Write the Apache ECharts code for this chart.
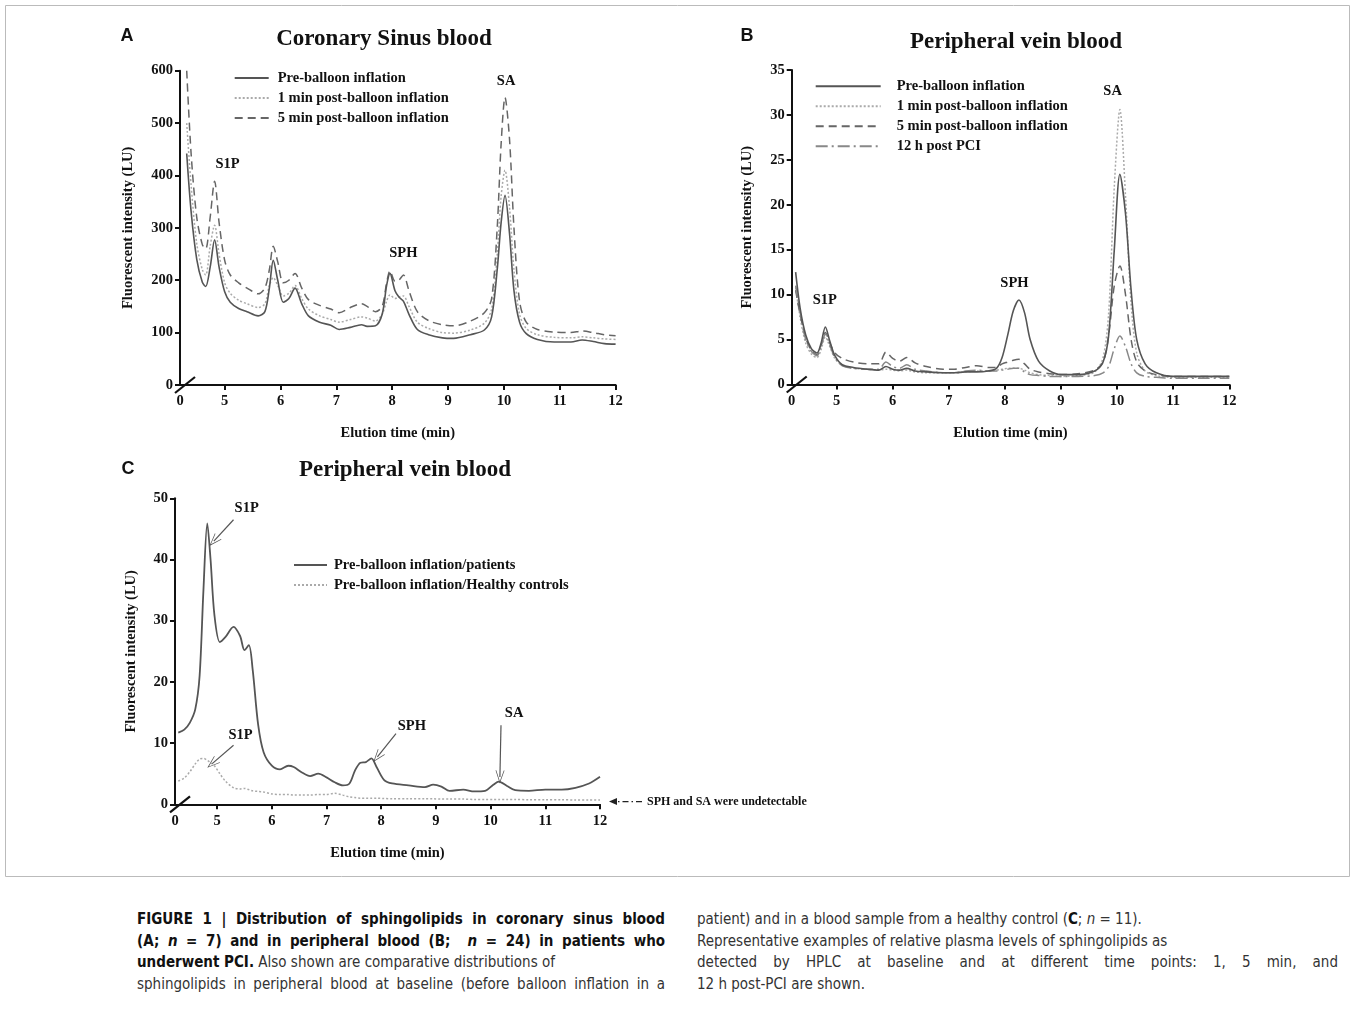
<!DOCTYPE html>
<html>
<head>
<meta charset="utf-8">
<script src="https://cdn.jsdelivr.net/npm/echarts@6.0.0/dist/echarts.min.js"></script>
<style>
body { margin: 0; background: #fff; }
#chart { position: absolute; left: 0; top: 0; width: 1355px; height: 890px; }
.cap { position: absolute; font-family: 'Liberation Sans Narrow', 'DejaVu Sans Condensed', 'Liberation Sans', sans-serif; font-size: 15px; line-height: 21.6px; color: #333; }
.cap div { white-space: nowrap; }
.cap .j { text-align: justify; text-align-last: justify; white-space: normal; }
.cap b { color: #111; }
</style>
</head>
<body>
<div id="chart"></div>
<div class="cap" style="left:137px; top:909px; width:528px;">
  <div class="j"><b>FIGURE 1 | Distribution of sphingolipids in coronary sinus blood</b></div>
  <div class="j"><b>(A; <i>n</i> = 7) and in peripheral blood (B; &nbsp;<i>n</i> = 24) in patients who</b></div>
  <div><b>underwent PCI.</b> Also shown are comparative distributions of</div>
  <div class="j">sphingolipids in peripheral blood at baseline (before balloon inflation in a</div>
</div>
<div class="cap" style="left:697px; top:909px; width:641px;">
  <div>patient) and in a blood sample from a healthy control (<b>C</b>; <i>n</i> = 11).</div>
  <div>Representative examples of relative plasma levels of sphingolipids as</div>
  <div class="j">detected by HPLC at baseline and at different time points: 1, 5 min, and</div>
  <div>12 h post-PCI are shown.</div>
</div>
<script>
// panel A: coronary sinus blood
const timeA = [4.32,4.4,4.5,4.6,4.66,4.74,4.82,4.9,5.0,5.1,5.25,5.4,5.6,5.72,5.8,5.87,5.95,6.05,6.15,6.26,6.38,6.5,6.7,6.9,7.05,7.25,7.45,7.55,7.7,7.82,7.9,7.96,8.05,8.12,8.2,8.3,8.45,8.65,8.9,9.1,9.4,9.65,9.78,9.88,9.95,10.02,10.1,10.18,10.28,10.4,10.6,10.9,11.2,11.4,11.6,11.8,12.0];
const preA = [442,330,240,196,188,225,277,225,178,158,146,140,132,140,185,238,200,158,165,185,155,132,120,114,106,110,115,112,113,135,190,213,180,168,160,135,106,96,90,89,96,105,130,220,310,362,290,180,120,98,87,82,82,86,83,79,78];
const min1A = [500,380,270,220,210,265,305,250,195,175,162,155,148,155,190,205,190,170,175,190,165,145,132,125,120,125,130,128,122,135,160,172,165,168,170,150,120,108,100,99,105,118,145,250,360,410,340,220,135,108,96,91,90,92,90,88,87];
const min5A = [600,440,320,268,260,320,389,310,238,210,195,185,174,185,220,265,235,195,200,213,185,163,152,145,138,148,155,150,140,150,195,218,198,200,210,180,140,123,115,113,122,138,165,300,460,549,470,300,160,120,106,101,100,103,100,96,94];

// panel B: peripheral vein blood
const timeB = [4.27,4.35,4.45,4.55,4.65,4.72,4.8,4.88,4.97,5.1,5.3,5.55,5.75,5.88,6.0,6.12,6.25,6.4,6.6,6.9,7.1,7.3,7.5,7.7,7.85,7.95,8.05,8.15,8.25,8.35,8.45,8.6,8.8,9.0,9.3,9.6,9.75,9.85,9.95,10.05,10.15,10.25,10.35,10.5,10.7,11.0,11.5,12.0];
const preB = [12.5,8.5,5.5,4.0,3.5,4.5,6.4,4.8,3.2,2.2,1.9,1.7,1.6,2.0,1.7,1.6,1.8,1.5,1.4,1.3,1.3,1.4,1.4,1.5,1.8,3.0,5.5,8.2,9.4,8.0,5.0,2.6,1.5,1.1,1.1,1.5,2.5,5.5,15.0,23.4,19.0,10.5,5.0,2.3,1.3,0.9,0.9,0.9];
const min1B = [10.8,7.5,4.6,3.4,3.0,3.8,5.3,4.2,2.9,2.1,1.8,1.7,1.6,1.7,1.6,1.5,1.6,1.4,1.3,1.3,1.3,1.4,1.5,1.5,1.6,1.7,1.8,1.8,1.8,1.6,1.3,1.1,1.0,0.9,1.0,1.4,3.0,8.0,22.0,30.6,21.0,9.0,3.5,1.5,1.0,0.8,0.8,0.8];
const min5B = [10.5,7.8,5.2,3.8,3.3,4.3,5.8,4.6,3.5,2.9,2.5,2.3,2.3,3.6,2.9,2.6,3.0,2.4,2.0,1.7,1.7,1.9,2.1,1.9,1.9,2.3,2.5,2.7,2.8,2.3,1.7,1.4,1.2,1.1,1.2,1.6,2.5,5.5,11.0,13.2,10.0,5.0,2.5,1.5,1.1,0.9,0.9,0.9];
const h12B = [11.0,8.0,5.0,3.7,3.2,4.2,5.6,4.4,3.0,2.1,1.8,1.7,1.7,2.5,2.0,1.8,2.2,1.7,1.5,1.3,1.3,1.5,1.6,1.5,1.5,1.6,1.7,1.8,1.8,1.4,1.1,1.0,0.9,0.9,0.9,1.0,1.3,2.0,4.0,5.4,4.2,2.3,1.3,0.9,0.8,0.7,0.7,0.7];

// panel C: patients vs healthy controls
const timeC = [4.29,4.4,4.5,4.6,4.68,4.75,4.82,4.88,4.95,5.05,5.15,5.3,5.42,5.5,5.58,5.65,5.75,5.85,6.0,6.15,6.3,6.4,6.55,6.7,6.85,7.0,7.15,7.3,7.42,7.52,7.62,7.72,7.82,7.92,8.05,8.2,8.5,8.8,8.95,9.1,9.25,9.5,9.7,9.9,10.05,10.15,10.3,10.45,10.7,11.0,11.3,11.55,11.8,12.0];
const patientsC = [11.7,12.2,13.3,15.5,21,35,45.9,40,31,26.5,27.3,29.0,27.5,25.2,26.0,22,13,8.5,6.3,5.7,6.3,6.1,5.2,4.6,5.0,4.4,3.6,3.1,3.4,5.5,6.8,6.9,7.5,6.0,4.0,3.4,3.1,2.8,3.2,2.9,2.2,2.4,2.1,2.2,3.2,3.7,3.0,2.3,2.2,2.4,2.4,2.7,3.4,4.5];
const controlsC = [3.8,4.3,5.3,6.6,7.4,7.5,7.2,6.8,6.3,5.0,3.8,2.7,2.5,2.6,2.4,2.2,2.1,2.0,1.7,1.6,1.6,1.5,1.5,1.5,1.6,1.6,1.8,1.5,1.2,1.1,1.0,1.0,1.0,1.0,0.95,0.9,0.9,0.9,0.9,0.85,0.85,0.85,0.8,0.8,0.8,0.8,0.8,0.8,0.75,0.75,0.75,0.7,0.7,0.7];

// axes
const xTicks = [5, 6, 7, 8, 9, 10, 11, 12];
const xMin = [4.2, 4.2, 4.23];
const yMax = [600, 35, 50];
const yStep = [100, 5, 10];

// peak labels [time, value, text]
const peaksA = [[5.05, 422, 'S1P'], [8.2, 252, 'SPH'], [10.04, 580, 'SA']];
const peaksB = [[4.79, 9.4, 'S1P'], [8.17, 11.3, 'SPH'], [9.92, 32.6, 'SA']];
const peaksC = [[5.54, 48.4, 'S1P'], [5.43, 11.3, 'S1P'], [8.56, 12.7, 'SPH'], [10.43, 14.8, 'SA']];
// arrows in C: [tailTime, tailValue, tipTime, tipValue]
const arrowsC = [[5.3, 46.5, 4.94, 43.0], [5.3, 9.65, 4.91, 6.65], [8.27, 11.56, 7.93, 7.74], [10.19, 12.9, 10.17, 4.47]];

const serif = 'Liberation Serif';
const pairs = (t, v) => t.map((x, i) => [x, v[i]]);
const grids = [
  { left: 180, top: 70.7, width: 435.6, height: 314.3 },
  { left: 791.7, top: 70, width: 437.6, height: 314.5 },
  { left: 175, top: 498.3, width: 425, height: 306 }
];
const yNameGap = [44, 37, 36];

const chart = echarts.init(document.getElementById('chart'));

const xAxes = grids.map((g, i) => ({
  gridIndex: i, type: 'value', min: xMin[i], max: 12,
  axisLine: { show: true, lineStyle: { color: '#111', width: 2 } },
  axisTick: { show: true, customValues: xTicks, length: 5, lineStyle: { color: '#111', width: 2 } },
  axisLabel: {
    customValues: [xMin[i]].concat(xTicks), margin: 9,
    formatter: v => (v < 5 ? '0' : String(v)),
    color: '#111', fontFamily: serif, fontWeight: 'bold', fontSize: 14.5
  },
  splitLine: { show: false },
  name: 'Elution time (min)', nameLocation: 'middle', nameGap: 41,
  nameTextStyle: { color: '#111', fontFamily: serif, fontWeight: 'bold', fontSize: 14.5 }
}));

const yAxes = grids.map((g, i) => ({
  gridIndex: i, type: 'value', min: 0, max: yMax[i], interval: yStep[i],
  axisLine: { show: true, lineStyle: { color: '#111', width: 2 } },
  axisTick: { show: true, length: 5, lineStyle: { color: '#111', width: 2 } },
  axisLabel: { margin: 7, color: '#111', fontFamily: serif, fontWeight: 'bold', fontSize: 14.5 },
  splitLine: { show: false },
  name: 'Fluorescent intensity (LU)', nameLocation: 'middle', nameGap: yNameGap[i], nameRotate: 90,
  nameTextStyle: { color: '#111', fontFamily: serif, fontWeight: 'bold', fontSize: 14.5 }
}));

const solid = { color: '#555', width: 1.6, type: 'solid' };
const dotted = { color: '#aaa', width: 1.5, type: [2, 2] };
const dashed = { color: '#666', width: 1.5, type: [8, 5] };
const dashDot = { color: '#888', width: 1.5, type: [12, 4, 2, 4] };

function line(name, idx, data, style, extra) {
  return Object.assign({
    name: name, type: 'line', xAxisIndex: idx, yAxisIndex: idx,
    data: data, showSymbol: false, symbol: 'none', smooth: 0.3,
    lineStyle: style, itemStyle: { color: style.color },
    emphasis: { disabled: true }, z: 2
  }, extra || {});
}

function peakLabels(list) {
  return {
    symbol: 'rect', symbolSize: 1, itemStyle: { color: 'rgba(0,0,0,0)' }, silent: true,
    label: { show: true, position: 'inside', formatter: '{b}', color: '#111', fontFamily: serif, fontWeight: 'bold', fontSize: 14.5 },
    data: list.map(p => ({ name: p[2], coord: [p[0], p[1]] }))
  };
}

const chevron = 'path://M0,0 L6,13 L5,13 L0,2.2 L-5,13 L-6,13 Z';

const series = [
  line('Pre-balloon inflation', 0, pairs(timeA, preA), solid, { markPoint: peakLabels(peaksA), z: 3 }),
  line('1 min post-balloon inflation', 0, pairs(timeA, min1A), dotted),
  line('5 min post-balloon inflation', 0, pairs(timeA, min5A), dashed),
  line('Pre-balloon inflation', 1, pairs(timeB, preB), solid, { markPoint: peakLabels(peaksB), z: 3 }),
  line('1 min post-balloon inflation', 1, pairs(timeB, min1B), dotted),
  line('5 min post-balloon inflation', 1, pairs(timeB, min5B), dashed),
  line('12 h post PCI', 1, pairs(timeB, h12B), dashDot),
  line('Pre-balloon inflation/patients', 2, pairs(timeC, patientsC), { color: '#555', width: 1.8, type: 'solid' }, {
    z: 3,
    markPoint: peakLabels(peaksC),
    markLine: {
      silent: true, symbol: ['none', chevron], symbolSize: [9, 13],
      lineStyle: { color: '#555', width: 1.2, type: 'solid' }, label: { show: false },
      data: arrowsC.map(a => [{ coord: [a[0], a[1]] }, { coord: [a[2], a[3]] }])
    }
  }),
  line('Pre-balloon inflation/Healthy controls', 2, pairs(timeC, controlsC), dotted)
];

const legendText = { color: '#111', fontFamily: serif, fontWeight: 'bold', fontSize: 14.5, padding: [0, 0, 0, 4] };
const legends = [
  { left: 228.7, top: 65.5, itemWidth: 34, textStyle: legendText,
    data: ['Pre-balloon inflation', '1 min post-balloon inflation', '5 min post-balloon inflation'] },
  { left: 809.7, top: 73.7, itemWidth: 65, textStyle: Object.assign({}, legendText, { padding: [0, 0, 0, 11] }),
    data: ['Pre-balloon inflation', '1 min post-balloon inflation', '5 min post-balloon inflation', '12 h post PCI'] },
  { left: 288, top: 552.5, itemWidth: 33, textStyle: Object.assign({}, legendText, { padding: [0, 0, 0, 2] }),
    data: ['Pre-balloon inflation/patients', 'Pre-balloon inflation/Healthy controls'] }
].map(l => Object.assign({ orient: 'vertical', itemHeight: 14, itemGap: 5, selectedMode: false,
  itemStyle: { opacity: 0 } }, l));

function txt(id, x, y, text, font, align) {
  return { type: 'text', id: id, x: x, y: y, silent: true,
    style: { text: text, font: font, fill: '#111', align: align || 'center', verticalAlign: 'middle' } };
}
const titleFont = 'bold 23px "Liberation Serif"';
const letterFont = 'bold 18px "Liberation Sans"';

chart.setOption({
  animation: false,
  backgroundColor: '#fff',
  grid: grids,
  xAxis: xAxes,
  yAxis: yAxes,
  legend: legends,
  series: series,
  graphic: [
    { type: 'rect', id: 'frame', silent: true, shape: { x: 5.5, y: 5.5, width: 1344, height: 871 },
      style: { fill: 'none', stroke: '#bbb', lineWidth: 1 } },
    txt('la', 127, 36, 'A', letterFont),
    txt('lb', 747, 36, 'B', letterFont),
    txt('lc', 128, 469, 'C', letterFont),
    txt('ta', 384, 39, 'Coronary Sinus blood', titleFont),
    txt('tb', 1016, 42, 'Peripheral vein blood', titleFont),
    txt('tc', 405, 470, 'Peripheral vein blood', titleFont)
  ]
});

// axis break marks and the note beside panel C, placed from the axes
const extra = [];
for (let i = 0; i < 3; i++) {
  const p = chart.convertToPixel({ xAxisIndex: i, yAxisIndex: i }, [xMin[i], 0]);
  extra.push({ type: 'line', id: 'brk' + i, silent: true, z: 10,
    shape: { x1: p[0] - 5, y1: p[1] + 8, x2: p[0] + 15, y2: p[1] - 8 },
    style: { stroke: '#111', lineWidth: 2.2 } });
}
const a = chart.convertToPixel({ xAxisIndex: 2, yAxisIndex: 2 }, [12, 0.45]);
extra.push({ type: 'line', id: 'noteLine', silent: true,
  shape: { x1: a[0] + 42, y1: a[1], x2: a[0] + 16, y2: a[1] },
  style: { stroke: '#222', lineWidth: 1.2, lineDash: [6, 3, 1.5, 3] } });
extra.push({ type: 'polygon', id: 'noteHead', silent: true,
  shape: { points: [[a[0] + 9, a[1]], [a[0] + 17, a[1] - 3.5], [a[0] + 17, a[1] + 3.5]] },
  style: { fill: '#222' } });
extra.push(txt('note', a[0] + 47, a[1], 'SPH and SA were undetectable', 'bold 12px "Liberation Serif"', 'left'));
chart.setOption({ graphic: extra });
</script>
</body>
</html>
